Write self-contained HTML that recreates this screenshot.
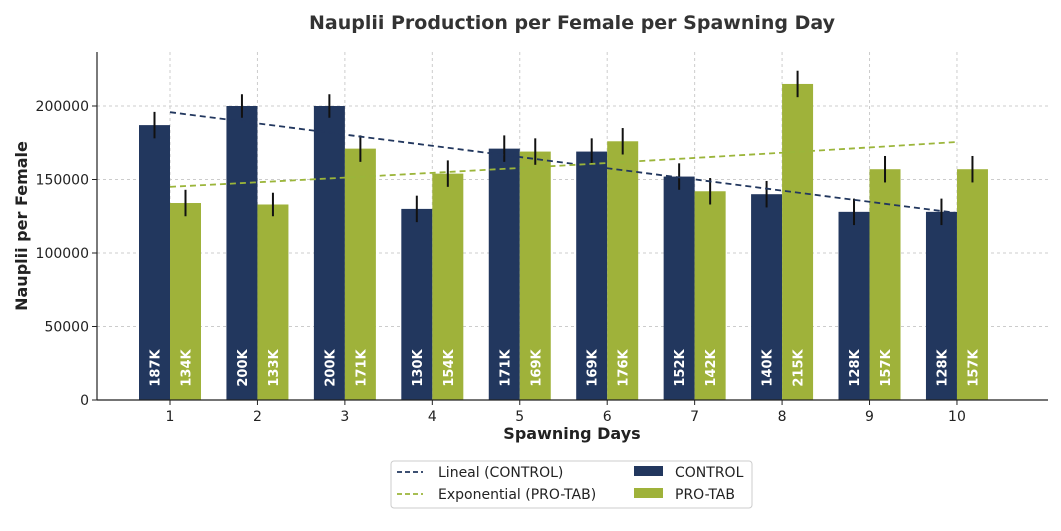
<!DOCTYPE html>
<html><head><meta charset="utf-8"><style>
html,body{margin:0;padding:0;background:#fff;}
svg{display:block;font-family:"DejaVu Sans","Liberation Sans",sans-serif;}
</style></head><body>
<svg id="chart" width="1061" height="531" viewBox="0 0 1061 531">
<text x="572" y="29" text-anchor="middle" font-size="19" font-weight="bold" fill="#333">Nauplii Production per Female per Spawning Day</text>
<g id="grid"></g>
<g id="bars"></g>
<g id="trends"></g>
<g id="axes"></g>
<text x="572" y="439" text-anchor="middle" font-size="16" font-weight="bold" fill="#222">Spawning Days</text>
<text transform="translate(27,226) rotate(-90)" text-anchor="middle" font-size="16" font-weight="bold" fill="#222">Nauplii per Female</text>
<g>
<rect x="391" y="461" width="361" height="47" rx="3" fill="#fff" stroke="#ccc"/>
<line x1="397" y1="472" x2="423" y2="472" stroke="#22375e" stroke-width="1.8" stroke-dasharray="5,3"/>
<text x="438" y="477" font-size="14" fill="#222">Lineal (CONTROL)</text>
<line x1="397" y1="494" x2="423" y2="494" stroke="#9bb53a" stroke-width="1.8" stroke-dasharray="5,3"/>
<text x="438" y="499" font-size="14" fill="#222">Exponential (PRO-TAB)</text>
<rect x="634" y="466" width="29" height="10" fill="#22375e"/>
<text x="675" y="477" font-size="14" fill="#222">CONTROL</text>
<rect x="634" y="488" width="29" height="10" fill="#9fb23a"/>
<text x="675" y="499" font-size="14" fill="#222">PRO-TAB</text>
</g>
</svg>
<script>
const days = [1,2,3,4,5,6,7,8,9,10];
const controlValues = [187000,200000,200000,130000,171000,169000,152000,140000,128000,128000];
const protabValues = [134000,133000,171000,154000,169000,176000,142000,215000,157000,157000];
const controlErr = [9000,8000,8000,9000,9000,9000,9000,9000,9000,9000];
const protabErr = [9000,8000,9000,9000,9000,9000,9000,9000,9000,9000];
const controlLabels = ["187K","200K","200K","130K","171K","169K","152K","140K","128K","128K"];
const protabLabels = ["134K","133K","171K","154K","169K","176K","142K","215K","157K","157K"];
const yTicks = [0,50000,100000,150000,200000];
const lineEndpoints = [195800,127200];
const expEndpoints = [145000,175500];

const NS="http://www.w3.org/2000/svg";
const X0=97,X1=1048,Y0=400,YTOP=52;
function xScale(d){return 170+(d-1)*87.44;}
function yScale(v){return Y0-v*(294/200000);}
function mk(tag,attrs,parent){const e=document.createElementNS(NS,tag);for(const k in attrs)e.setAttribute(k,attrs[k]);parent.appendChild(e);return e;}
const grid=document.getElementById('grid'),bars=document.getElementById('bars'),trends=document.getElementById('trends'),axes=document.getElementById('axes');
const bw=31;
yTicks.forEach(t=>{const y=yScale(t);
 if(t>0){const g=mk('line',{x1:X0,x2:X1,y1:y,y2:y,stroke:'#ccc','stroke-dasharray':'3,3'},grid);
 
 }
 const tk=mk('line',{x1:X0-5,x2:X0,y1:y,y2:y,stroke:'#222'},axes);
 
 
 const tx=mk('text',{x:X0-8,y:y+5,'text-anchor':'end','font-size':14,fill:'#222'},axes);tx.textContent=t;
 
 
});
days.forEach((d,i)=>{const x=xScale(d);
 const g=mk('line',{x1:x,x2:x,y1:YTOP,y2:Y0,stroke:'#ccc','stroke-dasharray':'3,3'},grid);
 
 
 [[controlValues,controlErr,controlLabels,'#22375e',x-bw,'control'],[protabValues,protabErr,protabLabels,'#9fb23a',x,'protab']].forEach(([vals,errs,labs,col,bx,nm])=>{
  const v=vals[i];
  const r=mk('rect',{x:bx,y:yScale(v),width:bw,height:Y0-yScale(v),fill:col},bars);
  
  
  const cx=bx+bw/2;
  const e=mk('line',{x1:cx,x2:cx,y1:yScale(v+errs[i]),y2:yScale(v-errs[i]),stroke:'#111','stroke-width':2},bars);
  
  
  const t=mk('text',{transform:`translate(${cx+5},368) rotate(-90)`,'text-anchor':'middle','font-size':13,'font-weight':'bold',fill:'#fff'},bars);
  t.textContent=labs[i];
  
  
 });
 const tk=mk('line',{x1:x,x2:x,y1:Y0,y2:Y0+5,stroke:'#222'},axes);
 
 
 const tx=mk('text',{x:x,y:Y0+21,'text-anchor':'middle','font-size':14,fill:'#222'},axes);tx.textContent=d;
 
 
});
const l1=mk('line',{x1:xScale(days[0]),y1:yScale(lineEndpoints[0]),x2:xScale(days[9]),y2:yScale(lineEndpoints[1]),stroke:'#22375e','stroke-width':1.8,'stroke-dasharray':'6,4'},trends);


const r=Math.pow(expEndpoints[1]/expEndpoints[0],1/9);
let pts=days.map(d=>xScale(d)+','+yScale(expEndpoints[0]*Math.pow(r,d-1))).join(' ');
const l2=mk('polyline',{points:pts,fill:'none',stroke:'#9bb53a','stroke-width':1.8,'stroke-dasharray':'6,4'},trends);


const a1=mk('line',{x1:X0,x2:X0,y1:YTOP,y2:Y0,stroke:'#222','stroke-width':1.2},axes);


const a2=mk('line',{x1:X0,x2:X1,y1:Y0,y2:Y0,stroke:'#222','stroke-width':1.2},axes);


</script>
</body></html>
